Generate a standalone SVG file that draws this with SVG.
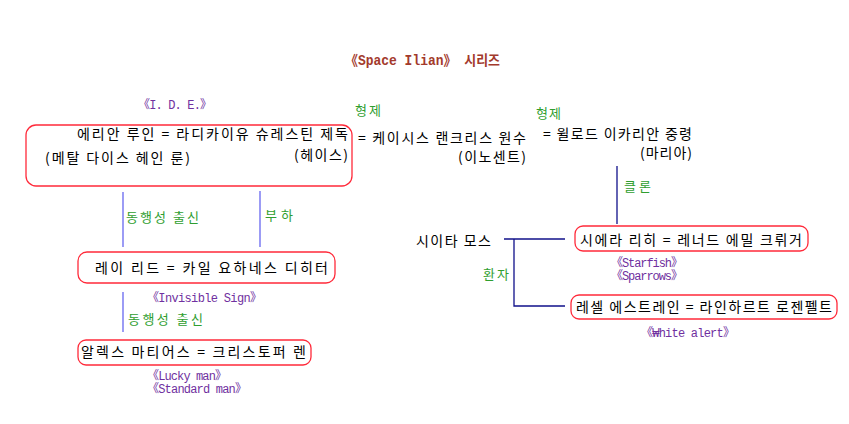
<svg xmlns="http://www.w3.org/2000/svg" width="849" height="424" viewBox="0 0 849 424">
<style>
text{font-family:"Noto Sans CJK KR","Liberation Sans",sans-serif;font-size:14px;fill:#000}
.t{font-family:"Liberation Mono","Noto Sans CJK KR",monospace;font-weight:bold;fill:#a33a2c;font-size:14px}
.g{fill:#2f9e2f;font-size:13px}
.p{font-family:"Liberation Mono","Noto Sans CJK KR",monospace;fill:#7030a0;font-size:12px}
.box{fill:none;stroke:#ff2a3a;stroke-width:1.3}
.lb{stroke:#6666f0;stroke-width:1.3}
.ln{stroke:#10108a;stroke-width:1.3;fill:none}
</style>
<rect width="849" height="424" fill="#fff"/>
<text class="t" x="345" y="65" textLength="155" lengthAdjust="spacingAndGlyphs">《Space Ilian》 시리즈</text>

<g id="connectors">
<line class="lb" x1="123" y1="192" x2="123" y2="247"/>
<line class="lb" x1="260" y1="191" x2="260" y2="247"/>
<line class="lb" x1="123" y1="292" x2="123" y2="332"/>
<line class="ln" x1="617" y1="166" x2="617" y2="224"/>
<line class="ln" x1="504" y1="239" x2="565" y2="239"/>
<polyline class="ln" points="514,239 514,306 565,306"/>
<text class="g" x="126" y="222" textLength="73">동행성 출신</text>
<text class="g" x="265" y="220" textLength="28">부하</text>
<text class="g" x="128" y="324" textLength="75">동행성 출신</text>
<text class="g" x="624" y="191" textLength="27">클론</text>
<text class="g" x="483" y="279" textLength="26">환자</text>
<text class="g" x="355" y="115" textLength="26">형제</text>
<text class="g" x="536" y="118" textLength="25">형제</text>
</g>

<g id="node-eris">
<rect class="box" x="26" y="125" width="326" height="61" rx="10"/>
<text x="77" y="139" textLength="271">에리안 루인 = 라디카이유 슈레스틴 제독</text>
<text x="45" y="163" textLength="145">(메탈 다이스 헤인 룬)</text>
<text x="294" y="160" textLength="54">(헤이스)</text>
<text class="p" x="138" y="109" textLength="74">《I. D. E.》</text>
</g>

<g id="node-caesis">
<text x="358" y="143" textLength="168">= 케이시스 랜크리스 원수</text>
<text x="458" y="162" textLength="68">(이노센트)</text>
</g>

<g id="node-willord">
<text x="543" y="139" textLength="149">= 윌로드 이카리안 중령</text>
<text x="640" y="158" textLength="52">(마리아)</text>
</g>

<g id="node-sierra">
<rect class="box" x="575" y="226" width="233" height="25" rx="8"/>
<text x="580" y="245" textLength="222">시에라 리히 = 레너드 에밀 크뤼거</text>
<text class="p" x="611" y="267" textLength="72">《Starfish》</text>
<text class="p" x="611" y="280" textLength="72">《Sparrows》</text>
</g>

<g id="node-sita">
<text x="416" y="246" textLength="75">시이타 모스</text>
</g>

<g id="node-reselle">
<rect class="box" x="571" y="295" width="266" height="24" rx="8"/>
<text x="576" y="312" textLength="256">레셀 에스트레인 = 라인하르트 로젠펠트</text>
<text class="p" x="641" y="337" textLength="94">《₩hite alert》</text>
</g>

<g id="node-ray">
<rect class="box" x="78" y="252" width="257" height="31" rx="9"/>
<text x="95" y="273" textLength="233">레이 리드 = 카일 요하네스 디히터</text>
<text class="p" x="147" y="302" textLength="115">《Invisible Sign》</text>
</g>

<g id="node-alex">
<rect class="box" x="78" y="340" width="233" height="25" rx="8"/>
<text x="81" y="357" textLength="225">알렉스 마티어스 = 크리스토퍼 렌</text>
<text class="p" x="147" y="380" textLength="80">《Lucky man》</text>
<text class="p" x="147" y="393" textLength="100">《Standard man》</text>
</g>
</svg>
